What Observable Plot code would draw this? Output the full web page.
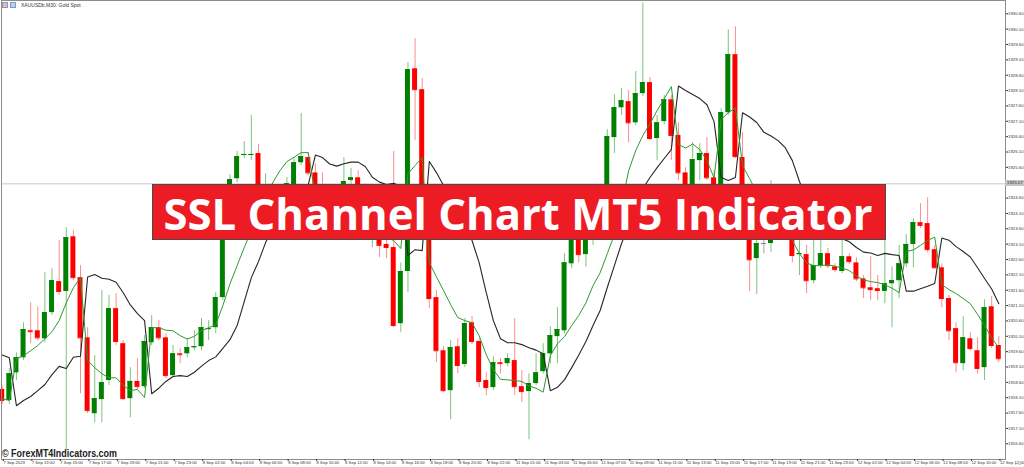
<!DOCTYPE html>
<html><head><meta charset="utf-8">
<script src="https://cdn.jsdelivr.net/npm/d3@7"></script>
<script src="https://cdn.jsdelivr.net/npm/@observablehq/plot@0.6"></script>
<style>
html,body{margin:0;padding:0;background:#fff;overflow:hidden}
#wrap{position:relative;width:1024px;height:467px}
#hdr{position:absolute;left:2px;top:1px;font-family:"Liberation Sans";font-size:5px;color:#333;display:flex;align-items:center;gap:2px;line-height:8px}
.ic{display:inline-block;width:6px;height:6px;border:1px solid #7a9cc6;box-sizing:border-box}
#cp{position:absolute;left:1005px;width:19px;height:6px;background:#c4c4c4;font-family:"Liberation Sans";font-size:4.3px;line-height:6px;color:#333;padding-left:2px;box-sizing:border-box}
</style></head>
<body><div id="wrap"></div>
<script>
// ---- data (XAUUSDb, M30) ----
const open = [1918.37,1918.01,1918.91,1919.40,1920.28,1920.28,1920.02,1920.87,1921.88,1921.56,
1923.34,1922.01,1920.05,1917.58,1918.04,1918.66,1921.00,1919.86,1918.07,1918.63,
1918.46,1919.89,1920.38,1920.05,1918.82,1919.53,1919.53,1919.73,1919.76,1920.32,
1920.38,1921.36,1924.52,1925.23,1925.99,1925.99,1926.05,1924.36,1924.84,1924.36,
1924.77,1924.68,1925.75,1925.92,1925.42,1924.52,1924.19,1924.58,1925.04,1925.17,
1925.26,1924.68,1923.38,1923.48,1923.09,1922.99,1920.51,1922.21,1928.81,1928.13,
1924.36,1921.36,1919.63,1918.33,1919.76,1919.18,1920.54,1919.93,1918.66,1918.43,
1919.24,1919.21,1919.31,1918.46,1918.30,1918.56,1918.95,1919.53,1920.09,1920.28,
1922.46,1924.12,1922.76,1923.71,1923.93,1924.52,1926.57,1927.54,1927.74,1927.05,
1928.00,1928.36,1926.54,1927.09,1927.80,1926.64,1925.42,1924.36,1925.82,1926.05,
1925.26,1924.68,1927.38,1929.27,1925.92,1923.71,1922.63,1923.12,1923.12,1923.48,
1923.71,1923.48,1922.76,1922.76,1921.91,1922.40,1922.79,1922.36,1922.21,1922.69,
1922.49,1921.97,1921.68,1921.65,1921.56,1921.81,1921.91,1922.46,1923.09,1923.80,
1923.77,1922.92,1922.33,1921.33,1920.35,1919.21,1920.02,1919.63,1919.08,1921.06,
1919.80];
const high = [1918.50,1919.05,1919.56,1920.54,1921.19,1921.06,1922.17,1922.30,1923.22,1923.64,
1923.54,1922.40,1920.38,1919.47,1921.59,1921.43,1921.49,1919.96,1919.08,1919.37,
1920.12,1920.78,1920.61,1920.18,1919.80,1919.70,1920.02,1920.28,1920.68,1920.61,
1921.52,1924.68,1925.36,1926.12,1926.44,1927.29,1926.34,1925.39,1925.10,1924.91,
1925.26,1925.89,1927.35,1926.08,1925.72,1925.42,1924.68,1925.01,1925.92,1925.56,
1925.49,1925.07,1924.19,1923.80,1923.38,1926.12,1922.49,1929.01,1929.79,1928.49,
1924.58,1921.59,1919.76,1919.96,1920.02,1920.68,1920.74,1920.02,1918.91,1919.43,
1919.37,1919.53,1920.68,1918.98,1918.88,1919.53,1919.86,1920.41,1921.03,1922.79,
1924.52,1924.36,1924.03,1924.19,1924.68,1926.83,1927.97,1928.17,1928.10,1928.72,
1930.96,1928.52,1927.29,1927.94,1927.94,1927.05,1925.59,1926.40,1926.37,1926.57,
1925.49,1927.51,1930.08,1930.18,1926.73,1924.03,1923.38,1923.35,1925.17,1924.03,
1924.03,1923.71,1923.25,1923.06,1923.22,1923.35,1922.96,1922.46,1923.25,1922.79,
1922.66,1922.08,1922.69,1922.08,1923.25,1922.36,1923.06,1923.41,1923.93,1924.42,
1924.61,1923.06,1922.46,1921.43,1920.54,1920.74,1920.22,1920.05,1921.29,1921.39,
1920.09];
const low = [1917.88,1917.88,1918.66,1919.31,1919.86,1919.96,1919.89,1920.78,1921.43,1916.38,
1921.91,1918.23,1917.58,1917.28,1917.28,1918.50,1919.80,1918.01,1917.45,1918.33,
1918.40,1919.80,1919.96,1918.72,1918.75,1919.21,1919.40,1919.63,1919.63,1919.96,
1920.18,1921.26,1924.36,1925.10,1925.89,1925.82,1924.36,1924.12,1924.19,1924.03,
1924.58,1924.52,1925.66,1925.33,1924.36,1924.03,1923.93,1924.36,1924.84,1925.01,
1924.52,1923.71,1922.99,1922.66,1922.63,1920.38,1920.22,1921.52,1926.47,1924.19,
1921.00,1919.24,1918.26,1917.38,1918.88,1919.08,1919.83,1918.43,1918.17,1918.33,
1918.88,1919.11,1918.17,1917.94,1916.73,1918.50,1918.88,1919.21,1919.21,1920.18,
1922.30,1922.49,1922.36,1923.06,1923.61,1924.36,1926.05,1927.29,1926.40,1926.96,
1927.90,1926.47,1925.82,1926.99,1925.82,1925.17,1924.19,1924.19,1925.17,1925.17,
1924.84,1924.52,1927.29,1925.89,1923.87,1921.56,1921.46,1922.79,1922.82,1923.28,
1923.28,1922.49,1922.08,1921.49,1921.81,1922.30,1922.30,1922.17,1922.14,1922.43,
1921.88,1921.33,1921.26,1921.26,1921.16,1920.38,1921.33,1922.33,1922.33,1923.61,
1922.82,1922.30,1921.03,1919.96,1918.91,1918.98,1919.63,1918.88,1918.66,1919.70,
1919.24];
const close = [1918.01,1918.88,1919.40,1920.32,1920.25,1920.05,1920.87,1921.91,1921.56,1923.31,
1922.01,1920.05,1917.68,1918.07,1918.59,1921.00,1919.93,1918.07,1918.63,1918.46,
1919.93,1920.38,1920.05,1918.82,1919.53,1919.50,1919.73,1919.76,1920.38,1920.35,
1921.36,1924.52,1925.20,1925.95,1926.02,1926.02,1924.52,1924.84,1924.36,1924.77,
1925.07,1925.75,1925.95,1925.42,1924.52,1924.19,1924.58,1924.84,1925.14,1925.26,
1924.68,1923.87,1923.71,1923.06,1922.99,1920.45,1922.21,1928.78,1928.13,1924.36,
1921.33,1919.63,1918.33,1919.73,1919.15,1920.51,1919.93,1918.63,1918.43,1919.24,
1919.21,1919.37,1918.46,1918.30,1918.56,1918.91,1919.53,1920.12,1920.32,1922.49,
1924.19,1922.76,1923.87,1923.93,1924.52,1926.60,1927.54,1927.77,1927.05,1928.00,
1928.36,1926.54,1927.05,1927.80,1926.64,1925.42,1924.36,1925.85,1926.05,1925.26,
1925.01,1927.38,1929.27,1925.95,1924.03,1922.59,1923.12,1923.12,1923.48,1923.71,
1923.48,1922.73,1922.79,1921.91,1922.40,1922.79,1922.40,1922.27,1922.69,1922.53,
1921.97,1921.68,1921.62,1921.59,1921.81,1921.91,1922.46,1923.09,1923.80,1923.71,
1922.92,1922.33,1921.33,1920.28,1919.24,1920.05,1919.70,1919.05,1921.03,1919.80,
1919.37];
// SSL Channel lines
const sslGreen = [1918.07,1918.01,1919.37,1919.47,1919.63,1919.80,1920.02,1920.25,1920.61,1921.19,
1921.68,1922.01,1919.31,1919.08,1918.88,1918.75,1918.75,1918.50,1918.33,1918.37,
1918.11,1920.38,1920.38,1920.30,1920.28,1920.12,1920.01,1920.10,1920.28,1920.38,
1920.48,1921.10,1921.81,1922.40,1922.99,1923.54,1924.12,1924.68,1925.10,1925.49,
1925.79,1925.93,1926.08,1926.08,1924.68,1924.52,1924.36,1924.19,1924.12,1924.03,
1923.93,1923.80,1923.61,1923.45,1923.31,1923.22,1922.96,1925.39,1925.66,1925.92,
1922.49,1922.04,1921.59,1921.13,1920.71,1920.61,1920.54,1920.12,1919.50,1919.01,
1918.70,1918.68,1918.66,1918.63,1918.48,1918.41,1918.28,1919.47,1919.86,1920.09,
1920.45,1920.78,1921.19,1921.75,1922.17,1922.79,1923.41,1924.36,1925.49,1926.15,
1926.64,1927.02,1927.45,1927.84,1928.23,1926.34,1926.23,1926.36,1926.18,1925.82,
1925.26,1927.16,1927.38,1927.54,1925.66,1925.23,1924.78,1924.36,1924.06,1923.80,
1923.54,1923.22,1922.79,1922.49,1922.40,1922.40,1922.43,1922.38,1922.32,1922.24,
1922.06,1921.94,1921.88,1921.85,1921.77,1921.67,1921.52,1922.86,1922.91,1923.06,
1923.22,1923.33,1921.78,1921.62,1921.49,1921.33,1921.16,1920.82,1920.45,1920.05,
1919.73];
const sslBlack = [1919.49,1919.40,1917.84,1918.01,1918.14,1918.33,1918.53,1918.85,1919.12,1919.05,
1919.42,1919.45,1922.03,1922.11,1921.99,1921.96,1921.86,1921.52,1921.12,1920.84,
1920.61,1918.23,1918.41,1918.63,1918.79,1918.82,1918.79,1918.93,1919.13,1919.31,
1919.43,1919.71,1919.99,1920.45,1921.23,1922.01,1922.53,1923.15,1923.61,1924.03,
1924.42,1924.68,1924.88,1925.04,1926.00,1925.92,1925.71,1925.64,1925.72,1925.77,
1925.77,1925.63,1925.28,1925.12,1925.04,1925.08,1924.98,1922.73,1922.92,1922.89,
1925.79,1925.43,1925.01,1924.52,1924.03,1923.61,1923.22,1922.50,1921.52,1920.61,
1920.02,1919.89,1919.89,1919.83,1919.73,1919.65,1919.53,1918.33,1918.44,1918.69,
1919.08,1919.49,1919.93,1920.45,1920.94,1921.69,1922.40,1923.12,1923.71,1924.26,
1924.91,1925.27,1925.59,1925.89,1926.18,1928.25,1928.10,1927.97,1927.84,1927.64,
1927.09,1925.27,1925.17,1925.27,1927.38,1927.24,1927.06,1926.74,1926.62,1926.47,
1926.24,1925.82,1925.14,1924.52,1924.03,1923.71,1923.48,1923.35,1923.28,1923.18,
1922.99,1922.84,1922.81,1922.73,1922.80,1922.76,1922.73,1921.57,1921.57,1921.65,
1921.73,1921.82,1923.30,1923.23,1923.02,1922.86,1922.68,1922.34,1921.98,1921.64,
1921.16];
const xLabels = ["7 Sep 2023","7 Sep 13:00","7 Sep 15:00","7 Sep 17:00","7 Sep 19:00","7 Sep 21:00","7 Sep 23:00",
"8 Sep 02:00","8 Sep 04:00","8 Sep 06:00","8 Sep 08:00","8 Sep 10:00","8 Sep 12:00","8 Sep 14:00","8 Sep 16:00",
"8 Sep 18:00","8 Sep 20:00","8 Sep 22:00","11 Sep 01:00","11 Sep 03:00","11 Sep 05:00","11 Sep 07:00","11 Sep 09:00",
"11 Sep 11:00","11 Sep 13:00","11 Sep 15:00","11 Sep 17:00","11 Sep 19:00","11 Sep 21:00","11 Sep 23:00",
"12 Sep 02:00","12 Sep 04:00","12 Sep 06:00","12 Sep 08:00","12 Sep 10:00","12 Sep 12:00"];
const yTicks = [1916.6,1917.1,1917.6,1918.1,1918.6,1919.1,1919.6,1920.1,1920.6,1921.1,1921.6,1922.1,1922.6,1923.1,
1923.6,1924.1,1924.6,1925.1,1925.6,1926.1,1926.6,1927.1,1927.6,1928.1,1928.6,1929.1,1929.6,1930.1,1930.6];
const currentPrice = 1925.07;
const symbolText = "XAUUSDb,M30:  Gold Spot";
const titleText = "SSL Channel Chart MT5 Indicator";
const watermarkText = "© ForexMT4Indicators.com";

// ---- build ----
const bars = open.map((o, i) => ({i, o, h: high[i], l: low[i], c: close[i], g: sslGreen[i], b: sslBlack[i]}));
const xTickIdx = xLabels.map((_, k) => k * 4);
const bodyColor = d => d.c > d.o ? "#008000" : d.c < d.o ? "#ff0000" : "#808080";
const wickColor = d => d.c > d.o ? "#7cc47c" : d.c < d.o ? "#ff8c8c" : "#a0a0a0";
const hw = 0.35;

const plot = Plot.plot({
  width: 1024, height: 467,
  marginTop: 0, marginLeft: 1, marginRight: 19, marginBottom: 8,
  x: {domain: [0, 140], range: [1.7, 998.3], axis: null},
  y: {domain: [1916.6, 1930.6], range: [443.3, 13.3], axis: null},
  color: {type: "identity"},
  style: {background: "#fff", fontFamily: "Liberation Sans", fontSize: "4.3px", color: "#333", overflow: "visible"},
  marks: [
    Plot.ruleY([currentPrice], {stroke: "#d9d9d9", strokeWidth: 1.5}),
    Plot.ruleX(bars, {x: "i", y1: "l", y2: "h", stroke: wickColor, strokeWidth: 1}),
    Plot.rect(bars, {x1: d => d.i - hw, x2: d => d.i + hw, y1: "o", y2: "c", fill: bodyColor}),
    Plot.ruleY(bars, {y: "c", x1: d => d.i - hw, x2: d => d.i + hw, stroke: bodyColor, strokeWidth: 1}),
    Plot.line(bars, {x: "i", y: "b", stroke: "#262626", strokeWidth: 1.1}),
    Plot.line(bars, {x: "i", y: "g", stroke: "#2e9a2e", strokeWidth: 1}),
    Plot.frame({stroke: "#8c8c8c"}),
    Plot.axisY({anchor: "right", ticks: yTicks, tickFormat: d => d.toFixed(2), tickSize: 2, tickPadding: 0.5, fontSize: 4.3}),
    Plot.axisX({anchor: "bottom", ticks: xTickIdx, tickFormat: d => xLabels[d / 4], tickSize: 2, tickPadding: -0.5, textAnchor: "start", dx: 1.2, fontSize: 4.2})
  ]
});
const wrap = document.getElementById("wrap");
wrap.appendChild(plot);

// header
const hdr = document.createElement("div");
hdr.id = "hdr";
hdr.innerHTML = '<span class="ic" style="background:#f3b2b2"></span><span class="ic" style="background:#b8cff0"></span><span style="margin-left:3px"></span>';
hdr.lastChild.textContent = symbolText;
wrap.appendChild(hdr);

// current price label
const cp = document.createElement("div");
cp.id = "cp";
cp.style.top = (plot.scale("y").apply(currentPrice) - 3) + "px";
cp.textContent = currentPrice.toFixed(2);
wrap.appendChild(cp);

// title banner (overlay covers full width so text is never clipped)
const ns = "http://www.w3.org/2000/svg";
const ban = document.createElementNS(ns, "svg");
ban.setAttribute("width", 1024); ban.setAttribute("height", 70);
ban.style.cssText = "position:absolute;left:0px;top:180px;overflow:visible;pointer-events:none";
ban.innerHTML = '<rect x="152.5" y="4.5" width="733" height="55" fill="#ed1c24" stroke="#4a4a4a"/>' +
  '<text x="518" y="49.5" text-anchor="middle" font-family="Open Sans" font-weight="700" font-size="43" fill="#fff" textLength="709" lengthAdjust="spacingAndGlyphs"></text>';
ban.querySelector("text").textContent = titleText;
wrap.appendChild(ban);

// watermark
const wm = document.createElementNS(ns, "svg");
wm.setAttribute("width", 220); wm.setAttribute("height", 20);
wm.style.cssText = "position:absolute;left:0px;top:440px;overflow:visible;pointer-events:none";
wm.innerHTML = '<text x="2" y="17" font-family="Liberation Sans" font-weight="700" font-size="10.5" fill="#222" textLength="115" lengthAdjust="spacingAndGlyphs"></text>';
wm.querySelector("text").textContent = watermarkText;
wrap.appendChild(wm);
</script></body></html>
